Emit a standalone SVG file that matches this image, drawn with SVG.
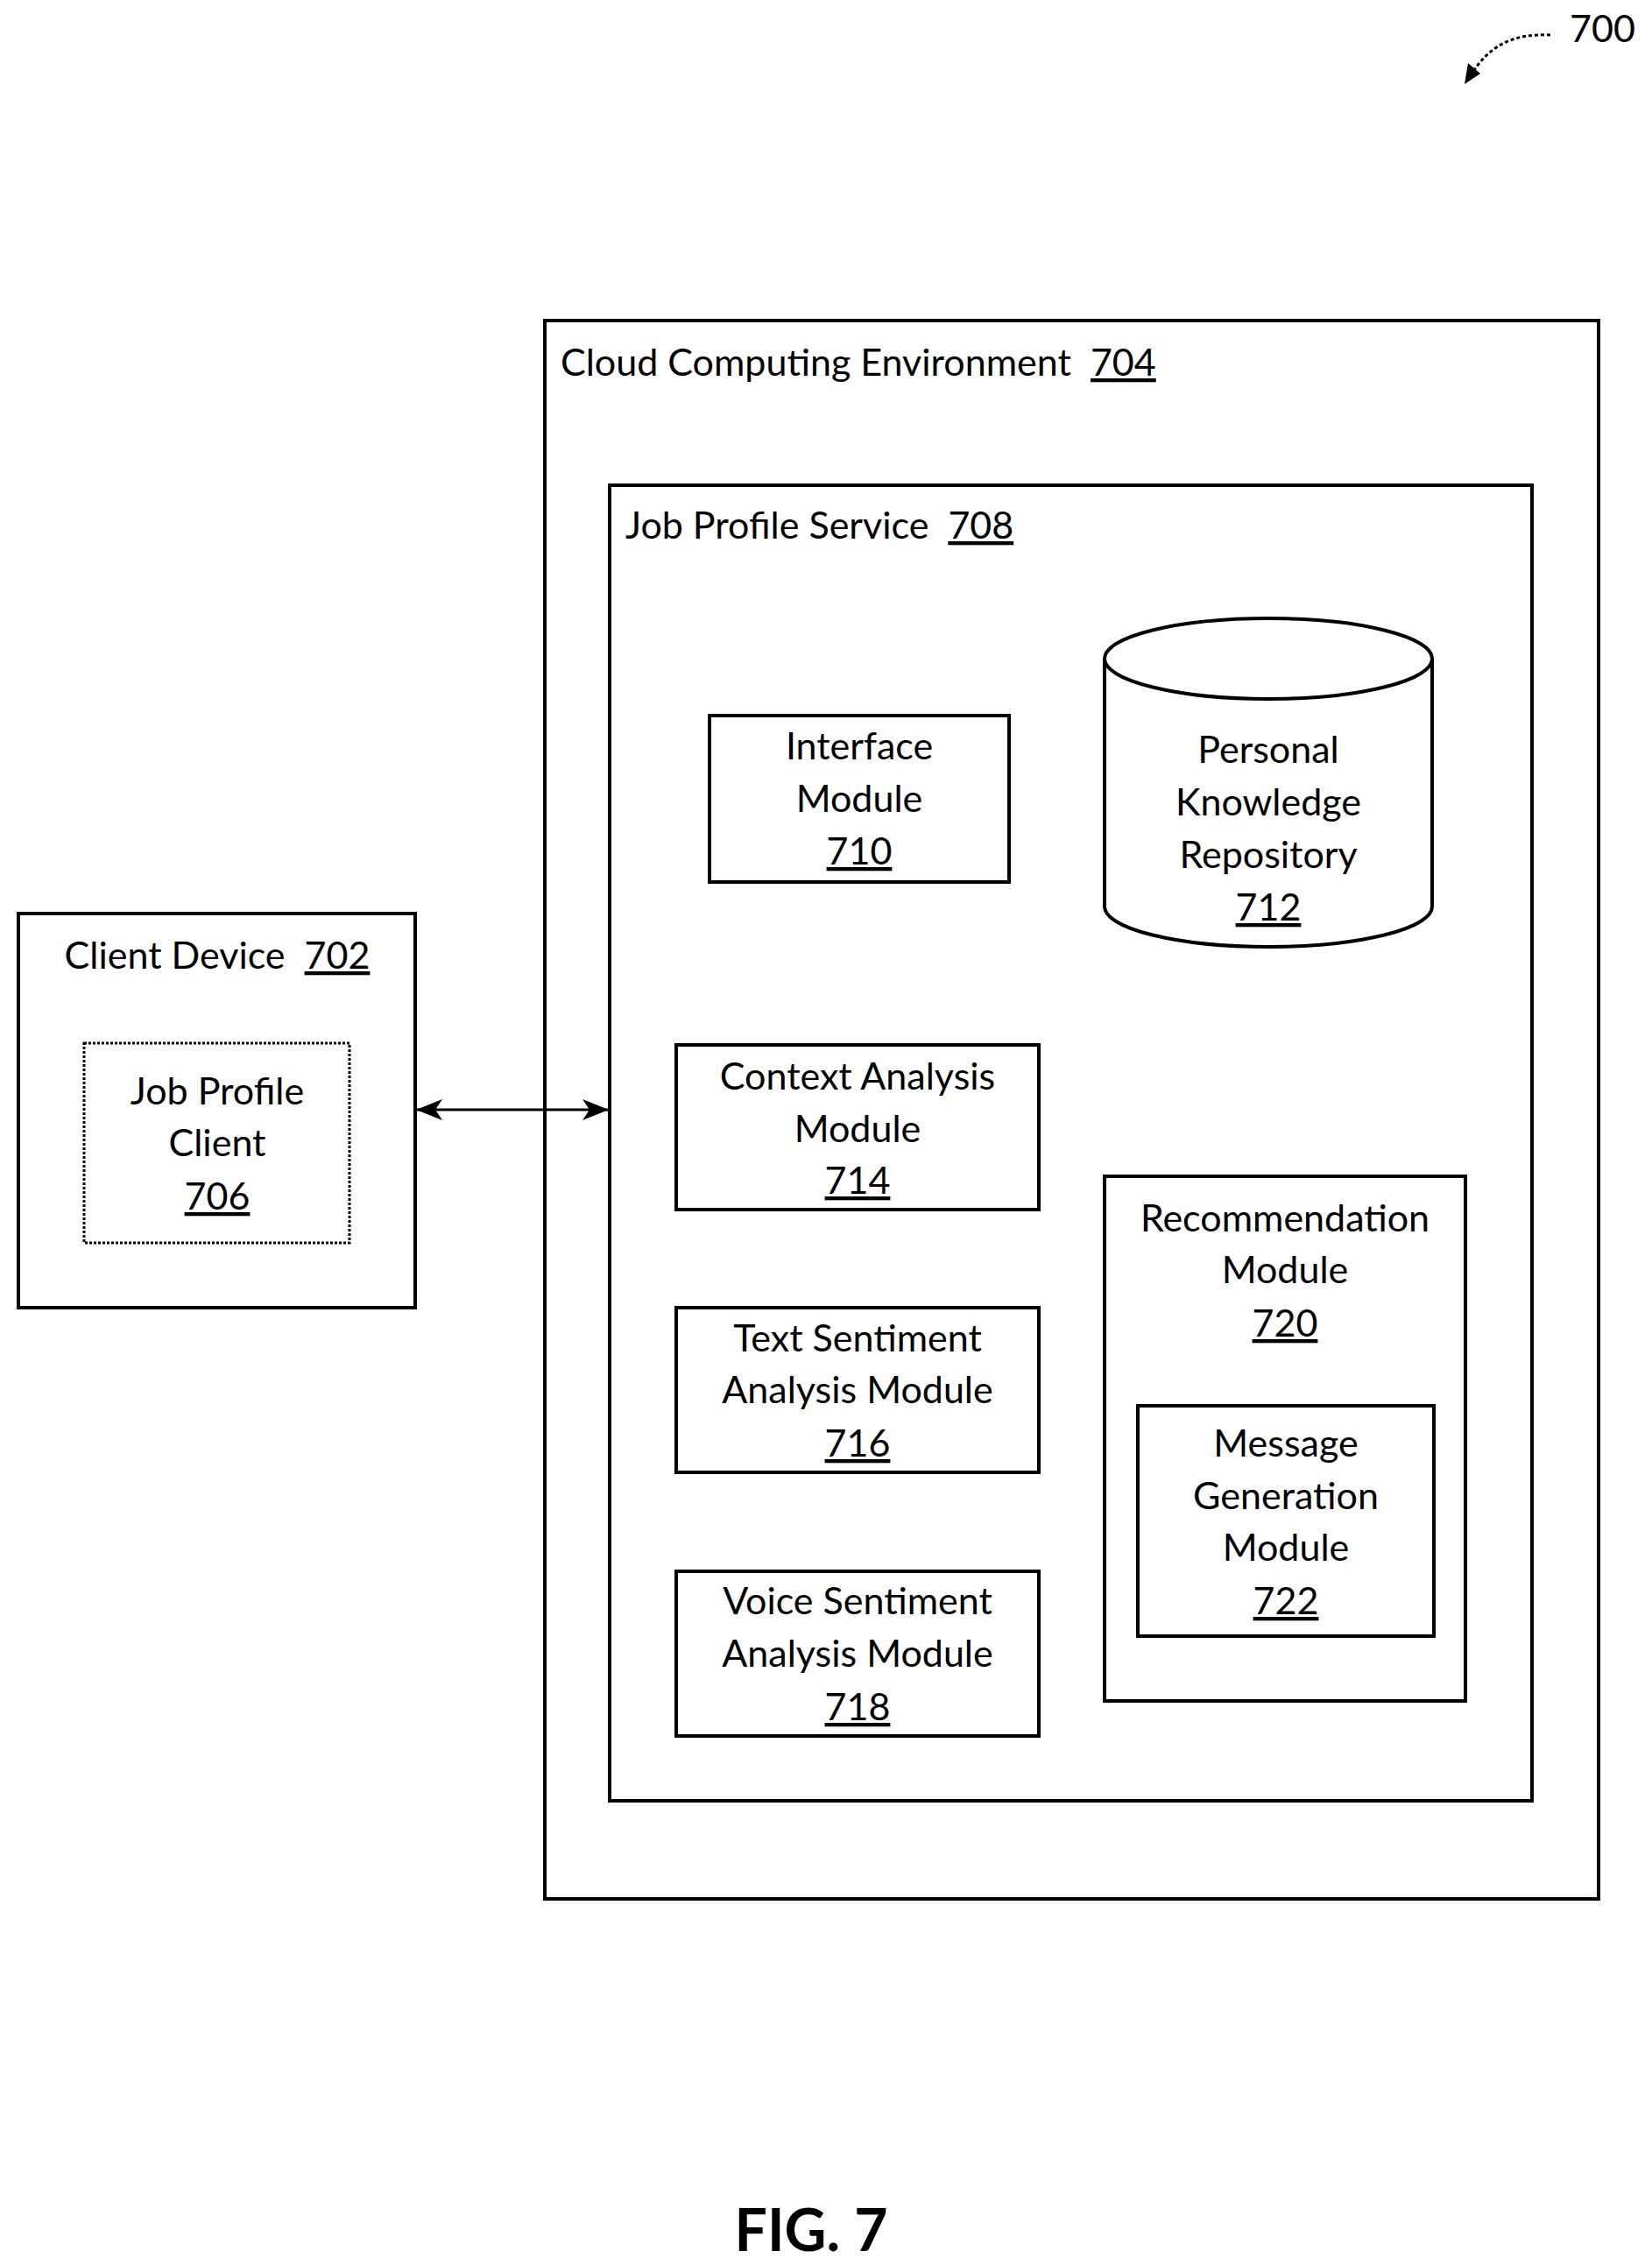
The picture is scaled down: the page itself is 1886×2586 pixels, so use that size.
<svg xmlns="http://www.w3.org/2000/svg" width="1886" height="2586" viewBox="0 0 1886 2586">
<style>
.b{fill:none;stroke:#000;stroke-width:4}
text{font-family:Lato,"Open Sans",sans-serif;font-size:43px;fill:#000}
.c{text-anchor:middle}
.u{text-decoration:underline}
</style>
<defs>
<marker id="a" viewBox="0 0 30 24" refX="29" refY="12" markerWidth="30" markerHeight="24" orient="auto-start-reverse" markerUnits="userSpaceOnUse"><path d="M0,0L30,12L0,24L8,12z" fill="#000"/></marker>
</defs>
<rect width="1886" height="2586" fill="#fff"/>
<g id="ref700">
<text x="1792" y="48">700</text>
<path d="M1770,40 C1730,38 1700,50 1678,88" fill="none" stroke="#000" stroke-width="3" stroke-dasharray="4,3"/>
<path d="M1672,96 L1676,72 L1690,84 Z" fill="#000"/>
</g>
<g id="cloud"><rect class="b" x="622" y="366" width="1203" height="1802"/>
<text x="640" y="429" xml:space="preserve">Cloud Computing Environment  <tspan class="u">704</tspan></text></g>
<g id="jps"><rect class="b" x="696" y="554" width="1053" height="1502"/>
<text x="714" y="615" xml:space="preserve">Job Profile Service  <tspan class="u">708</tspan></text></g>
<g id="n710"><rect class="b" x="810" y="817" width="342" height="190"/>
<text class="c" x="981" y="867">Interface</text><text class="c" x="981" y="927">Module</text><text class="c u" x="981" y="987">710</text></g>
<g id="n712"><path class="b" d="M1261,752 V1035 A187,46 0 0 0 1635,1035 V752"/><ellipse class="b" cx="1448" cy="752" rx="187" ry="46"/>
<text class="c" x="1448" y="871">Personal</text><text class="c" x="1448" y="931">Knowledge</text><text class="c" x="1448" y="991">Repository</text><text class="c u" x="1448" y="1051">712</text></g>
<g id="n702"><rect class="b" x="21" y="1043" width="453" height="450"/>
<text class="c" x="248" y="1106" xml:space="preserve">Client Device  <tspan class="u">702</tspan></text></g>
<g id="n706"><rect x="96" y="1191" width="303" height="228" fill="none" stroke="#000" stroke-width="3" stroke-dasharray="3,2"/>
<text class="c" x="248" y="1261">Job Profile</text><text class="c" x="248" y="1320">Client</text><text class="c u" x="248" y="1381">706</text></g>
<g id="n714"><rect class="b" x="772" y="1193" width="414" height="188"/>
<text class="c" x="979" y="1244">Context Analysis</text><text class="c" x="979" y="1304">Module</text><text class="c u" x="979" y="1363">714</text></g>
<g id="n716"><rect class="b" x="772" y="1493" width="414" height="188"/>
<text class="c" x="979" y="1543">Text Sentiment</text><text class="c" x="979" y="1602">Analysis Module</text><text class="c u" x="979" y="1663">716</text></g>
<g id="n718"><rect class="b" x="772" y="1794" width="414" height="188"/>
<text class="c" x="979" y="1843">Voice Sentiment</text><text class="c" x="979" y="1903">Analysis Module</text><text class="c u" x="979" y="1964">718</text></g>
<g id="n720"><rect class="b" x="1261" y="1343" width="412" height="599"/>
<text class="c" x="1467" y="1406">Recommendation</text><text class="c" x="1467" y="1465">Module</text><text class="c u" x="1467" y="1526">720</text></g>
<g id="n722"><rect class="b" x="1299" y="1605" width="338" height="263"/>
<text class="c" x="1468" y="1663">Message</text><text class="c" x="1468" y="1723">Generation</text><text class="c" x="1468" y="1782">Module</text><text class="c u" x="1468" y="1843">722</text></g>
<g id="connectors"><line x1="476" y1="1267" x2="694" y2="1267" stroke="#000" stroke-width="3" marker-start="url(#a)" marker-end="url(#a)"/></g>
<text class="c" x="926" y="2570" style="font-weight:bold;font-size:66px">FIG. 7</text>
</svg>
